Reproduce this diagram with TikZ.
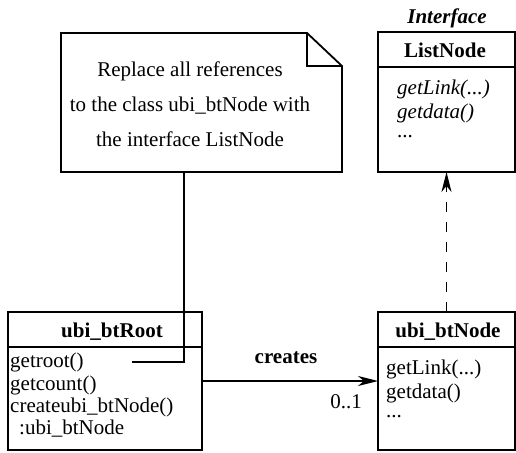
\documentclass[tikz,border=0pt]{standalone}
\usepackage{fontspec}
\setmainfont{Liberation Serif}
\usetikzlibrary{arrows.meta,calc}
\begin{document}
\begin{tikzpicture}[x=1pt,y=-1pt,
  box/.style={draw, line width=1.8pt, inner sep=0pt, outer sep=0pt, anchor=north west},
  txt/.style={font=\fontsize{21}{25}\selectfont, inner sep=0pt, anchor=base},
  mtxt/.style={txt, anchor=base west},
  conn/.style={line width=1.5pt},
  tip/.style={-{Stealth[length=20pt, width=10pt, inset=6pt]}}]
\useasboundingbox (0,0) rectangle (516,452);
% note
\node[inner sep=0pt, outer sep=0pt, minimum width=281pt, minimum height=139pt, anchor=north west] (note) at (61,33) {};
\draw[line width=1.8pt, line join=miter] (note.north west) -- ($(note.north east)+(-35,0)$) -- ($(note.north east)+(0,33)$) -- (note.south east) -- (note.south west) -- cycle;
\draw[line width=1.8pt] ($(note.north east)+(-35,0)$) -- ($(note.north east)+(-35,33)$) -- ($(note.north east)+(0,33)$);
\node[txt] (n1) at (190,76) {Replace all references};
\node[txt] (n2) at (190,111) {to the class ubi\_btNode with};
\node[txt] (n3) at (190,146) {the interface ListNode};
% ListNode
\node[txt, font=\fontsize{21}{25}\selectfont\bfseries\itshape] (iface) at (447,24) {Interface};
\node[box, minimum width=137pt, minimum height=140pt] (list) at (378,32) {};
\draw[line width=1.8pt] (378,67) -- (515,67);
\node[txt, font=\fontsize{21}{25}\selectfont\bfseries] (listt) at (445,57) {ListNode};
\node[mtxt, font=\fontsize{21}{25}\selectfont\itshape] (l1) at (397,94) {getLink(...)};
\node[mtxt, font=\fontsize{21}{25}\selectfont\itshape] (l2) at (397,118) {getdata()};
\node[mtxt] (l3) at (397,137) {...};
% ubi_btRoot
\node[box, minimum width=194pt, minimum height=138pt] (root) at (8,312) {};
\draw[line width=1.8pt] (8,347) -- (202,347);
\node[txt, font=\fontsize{21}{25}\selectfont\bfseries] (roott) at (112,337) {ubi\_btRoot};
\node[mtxt] (r1) at (10,367) {getroot()};
\node[mtxt] (r2) at (10,390) {getcount()};
\node[mtxt] (r3) at (10,412) {createubi\_btNode()};
\node[mtxt] (r4) at (10,434) {\hspace{9pt}:ubi\_btNode};
% ubi_btNode
\node[box, minimum width=137pt, minimum height=138pt] (btn) at (378,312) {};
\draw[line width=1.8pt] (378,347) -- (515,347);
\node[txt, font=\fontsize{21}{25}\selectfont\bfseries] (btnt) at (448,337) {ubi\_btNode};
\node[mtxt] (b1) at (386,374) {getLink(...)};
\node[mtxt] (b2) at (386,398) {getdata()};
\node[mtxt] (b3) at (386,417) {...};
% connectors
\coordinate (nx) at (184,0);
\coordinate (nend) at (132,362);
\draw[conn] (note.south -| nx) |- (nend);
\coordinate (cy) at (0,381);
\draw[conn, tip] (root.east |- cy) -- (btn.west |- cy);
\node[txt, font=\fontsize{21}{25}\selectfont\bfseries] (creates) at (286,363) {creates};
\node[txt] (mult) at (346,408) {0..1};
\draw[conn, tip, dash pattern=on 10pt off 10pt] (btn.north) -- (list.south);
\end{tikzpicture}
\end{document}
